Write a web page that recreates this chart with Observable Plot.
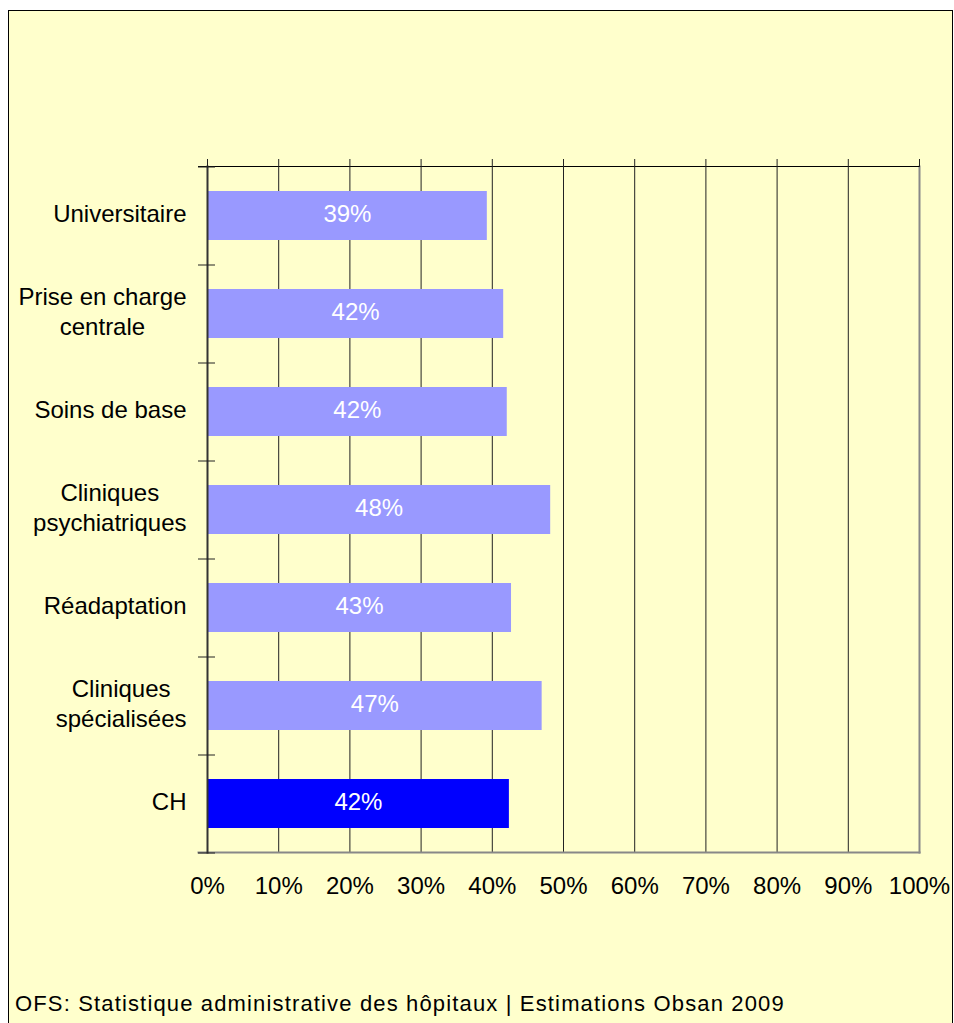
<!DOCTYPE html>
<html><head><meta charset="utf-8">
<script src="https://cdn.jsdelivr.net/npm/d3@7"></script>
<script src="https://cdn.jsdelivr.net/npm/@observablehq/plot@0.6"></script>
<style>
html,body{margin:0;padding:0;background:#fff;overflow:hidden;width:954px;height:1023px;}
#frame{position:absolute;left:8px;top:10px;width:945px;height:1013px;border:1px solid #000;border-bottom:none;background:#FFFFCC;box-sizing:border-box;}
#chart{position:absolute;left:0;top:0;}
#caption{position:absolute;left:15px;top:991px;font-family:"Liberation Sans",Arial,sans-serif;font-size:22px;letter-spacing:1.15px;color:#000;white-space:nowrap;}
</style></head><body>
<div id="frame"></div><div id="chart"></div><div id="caption"></div>
<script>
// ---- data ----
const categories = ["Universitaire", "Prise en charge\ncentrale", "Soins de base", "Cliniques\npsychiatriques", "Réadaptation", "Cliniques\nspécialisées", "CH"];
const shares = [0.393, 0.416, 0.421, 0.482, 0.427, 0.470, 0.424];
const highlight = "CH";
const xTicks = [0, 0.1, 0.2, 0.3, 0.4, 0.5, 0.6, 0.7, 0.8, 0.9, 1.0];
const captionText = "OFS: Statistique administrative des hôpitaux | Estimations Obsan 2009";

// ---- layout ----
const W = 954, H = 930, mL = 207, mR = 35, mT = 166, mB = 78;
const step = (H - mT - mB) / categories.length;
const font = '"Liberation Sans", Arial, sans-serif';
const data = categories.map((c, i) => ({cat: c, value: shares[i]}));
const pct = d3.format(".0%");

const chart = Plot.plot({
  width: W, height: H,
  marginLeft: mL, marginRight: mR, marginTop: mT, marginBottom: mB,
  style: {background: "transparent", fontFamily: font, fontSize: "24px", color: "#000", overflow: "visible"},
  x: {domain: [0, 1], label: null},
  y: {domain: categories, paddingInner: 0.5, paddingOuter: 0.25, label: null},
  marks: [
    Plot.gridX(xTicks.filter(t => t > 0 && t < 1), {stroke: "#222", strokeOpacity: 1, strokeWidth: 1}),
    Plot.barX(data, {x: "value", y: "cat", fill: d => d.cat === highlight ? "#0000FF" : "#9999FF"}),
    Plot.text(data, {x: d => d.value / 2, y: "cat", dy: -2, text: d => pct(d.value), fill: "#fff", fontSize: 24}),
    Plot.frame({anchor: "right", stroke: "#888", strokeWidth: 2}),
    Plot.frame({anchor: "bottom", stroke: "#888", strokeWidth: 2, insetLeft: -9}),
    Plot.frame({anchor: "top", stroke: "#000", strokeWidth: 1, insetLeft: -9}),
    Plot.frame({anchor: "left", stroke: "#333", strokeWidth: 2}),
    Plot.ruleY(categories, {y: d => d, dy: -step / 2, x1: 0, x2: 0, insetLeft: -9, insetRight: -8, stroke: "#222", strokeWidth: 1}),
    Plot.ruleY(categories.slice(-1), {y: d => d, dy: step / 2, x1: 0, x2: 0, insetLeft: -9, insetRight: -8, stroke: "#222", strokeWidth: 1}),
    Plot.axisX({anchor: "top", ticks: xTicks, tickSize: 8, tickFormat: () => "", stroke: "#222", label: null}),
    Plot.axisX({anchor: "bottom", ticks: xTicks, tickSize: 0, tickPadding: 24, tickFormat: pct, fontSize: 24, fill: "#000", label: null}),
    Plot.axisY({ticks: categories, tickSize: 0, tickPadding: 21, dy: -4, lineHeight: 1.25, fontSize: 24, fill: "#000", textAnchor: "end", label: null})
  ]
});
document.getElementById("chart").appendChild(chart);
document.getElementById("caption").textContent = captionText;

// center the lines of multi-line category labels within their right-aligned block
chart.querySelectorAll('g[aria-label="y-axis tick label"] text').forEach(t => {
  const spans = t.querySelectorAll("tspan");
  if (spans.length > 1) {
    let w = 0;
    spans.forEach(s => { w = Math.max(w, s.getComputedTextLength()); });
    t.setAttribute("text-anchor", "middle");
    spans.forEach(s => s.setAttribute("x", -w / 2));
  }
});
</script>
</body></html>
